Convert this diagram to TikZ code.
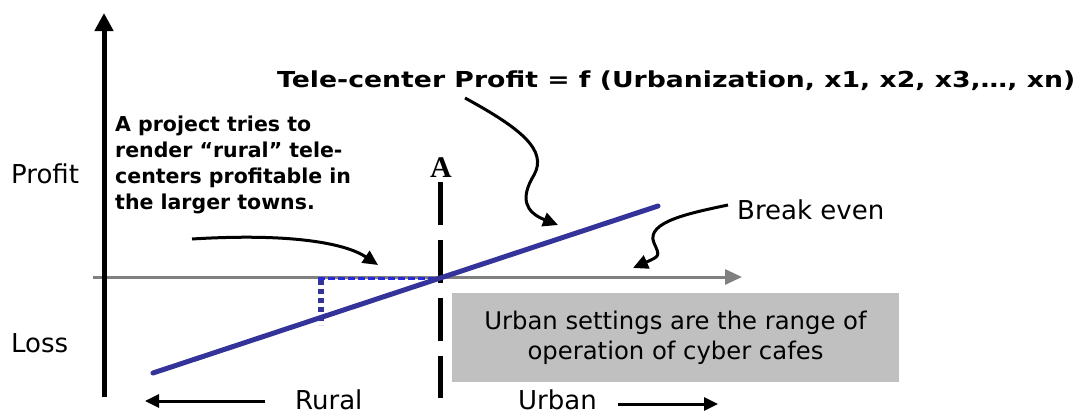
\documentclass[tikz,border=0pt]{standalone}
\usepackage{fontspec}
\usepackage{graphicx}
\setmainfont{DejaVu Sans}
\newfontfamily\serifA{Liberation Serif}
\usetikzlibrary{arrows.meta}
\definecolor{lineblue}{RGB}{51,51,153}
\definecolor{dashblue}{RGB}{40,40,220}
\definecolor{axisgray}{RGB}{128,128,128}
\definecolor{boxgray}{RGB}{192,192,192}
\tikzset{
  lbl/.style={font=\fontsize{26}{30}\selectfont, inner sep=0pt},
  bold/.style={font=\bfseries\fontsize{20.5}{26}\selectfont, inner sep=0pt, align=left},
  callout/.style={line width=3pt, -{Triangle[length=15pt,width=14pt]}},
  dirarrow/.style={line width=3pt, -{Triangle[length=14pt,width=13pt]}},
}
\begin{document}
\begin{tikzpicture}[x=1pt,y=-1pt]
\useasboundingbox (0,0) rectangle (1083,415);
% axes
\coordinate (vbot) at (104,397);
\coordinate (vtop) at (104,13);
\coordinate (hleft) at (93,277);
\coordinate (hright) at (742,277);
\draw[axisgray, line width=3pt, -{Triangle[length=17pt,width=15pt]}] (hleft) -- (hright);
\draw[line width=5pt, -{Triangle[length=18pt,width=18pt]}] (vbot) -- (vtop);
% gray box
\node[fill=boxgray, minimum width=447pt, minimum height=89pt, inner sep=0pt, align=center,
      font=\fontsize{24.3}{30}\selectfont] (box) at (675.5,337.5)
  {Urban settings are the range of\\operation of cyber cafes};
% dashed A line
\coordinate (atop) at (440,182);
\coordinate (abot) at (440,398);
\draw[line width=5pt, dash pattern=on 43pt off 15pt] (atop) -- (abot);
\node[font=\serifA\bfseries\fontsize{30}{30}\selectfont, anchor=base, inner sep=0pt] (A) at (441,177) {A};
% blue dotted helpers
\coordinate (d1) at (318,278);
\coordinate (d2) at (440,278);
\coordinate (d3) at (321,280);
\coordinate (d4) at (321,325);
\draw[dashblue, line width=3pt, dash pattern=on 7pt off 3pt] (d1) -- (d2);
\draw[lineblue, line width=6pt, dash pattern=on 5pt off 4pt] (d3) -- (d4);
% profit line
\coordinate (p1) at (153,373);
\coordinate (p2) at (658,206);
\draw[lineblue, line width=5pt, line cap=round] (p1) -- (p2);
% labels
\node[lbl, anchor=base west] (profit) at (11,183) {Profit};
\node[lbl, anchor=base west] (loss) at (11,352) {Loss};
\node[lbl, anchor=base west] (rural) at (295,409) {Rural};
\node[lbl, anchor=base west] (urban) at (518,409) {Urban};
\node[lbl, anchor=base west] (breakeven) at (737,219) {Break even};
\node[font=\bfseries\fontsize{22}{26}\selectfont, inner sep=0pt, anchor=base west] (title) at (277,87)
  {\resizebox{798pt}{\height}{Tele-center Profit = f (Urbanization, x1, x2, x3,…, xn)}};
\node[bold, anchor=north west] (project) at (115,116)
  {A project tries to\\render “rural” tele-\\centers profitable in\\the larger towns.};
% direction arrows
\coordinate (r1) at (265,401);
\coordinate (r2) at (145,401);
\coordinate (u1) at (618,404);
\coordinate (u2) at (718,404);
\draw[dirarrow] (r1) -- (r2);
\draw[dirarrow] (u1) -- (u2);
% callouts
\coordinate (t1) at (465,98);
\coordinate (t2) at (558,225);
\draw[callout] (t1) .. controls (520,128) and (548,150) .. (534,175)
  .. controls (520,198) and (525,212) .. (t2);
\coordinate (b1) at (728,205);
\coordinate (b2) at (633,268);
\draw[callout] (b1) .. controls (690,213) and (645,222) .. (654,243)
  .. controls (660,256) .. (b2);
\coordinate (j1) at (192,239);
\coordinate (j2) at (378,265);
\draw[callout] (j1) .. controls (290,233) and (345,243) .. (j2);
\end{tikzpicture}
\end{document}
